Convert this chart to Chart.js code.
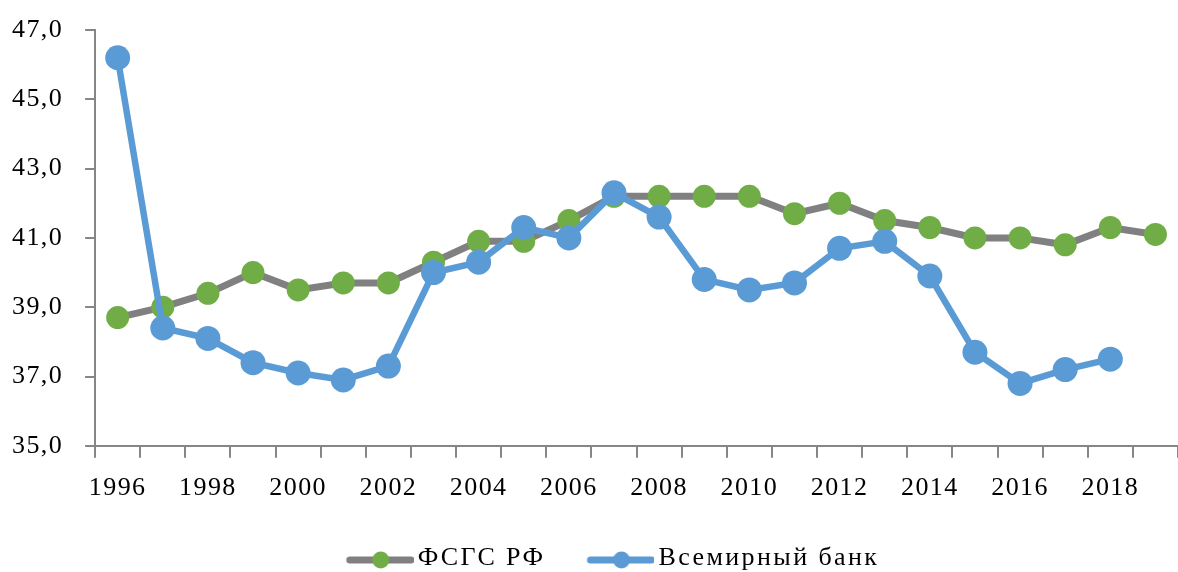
<!doctype html>
<html lang="ru">
<head>
<meta charset="utf-8">
<title>ФСГС РФ и Всемирный банк</title>
<style>
  * { margin: 0; padding: 0; }
  body { background: #fff; }
  .chartBox { width: 1178px; height: 572px; }
</style>
</head>
<body>
<div class="chartBox"><canvas id="myChart"></canvas></div>

<script src="https://cdn.jsdelivr.net/npm/chart.js"></script>
<script>
// data
const years = ['1996','1997','1998','1999','2000','2001','2002','2003','2004','2005','2006','2007',
               '2008','2009','2010','2011','2012','2013','2014','2015','2016','2017','2018','2019'];
const fsgs = [38.7, 39.0, 39.4, 40.0, 39.5, 39.7, 39.7, 40.3, 40.9, 40.9, 41.5, 42.2,
              42.2, 42.2, 42.2, 41.7, 42.0, 41.5, 41.3, 41.0, 41.0, 40.8, 41.3, 41.1];
const worldBank = [46.2, 38.4, 38.1, 37.4, 37.1, 36.9, 37.3, 40.0, 40.3, 41.3, 41.0, 42.3,
                   41.6, 39.8, 39.5, 39.7, 40.7, 40.9, 39.9, 37.7, 36.8, 37.2, 37.5, null];
const seriesNames = ['ФСГС РФ', 'Всемирный банк'];
const yTicks = { min: 35, max: 47, step: 2 };

const axisColor = '#868686';
const fontFamily = "'Liberation Serif', 'Times New Roman', serif";
const axisSpacing = '1.4px';
const legendSpacing = '2.4px';
const legendShift = 21;

// legend swatch: line with a dot in the middle (drawn off-centre inside a wider image)
function swatch(lineColor, dotColor) {
  const c = document.createElement('canvas');
  c.width = 92; c.height = 24;
  const g = c.getContext('2d');
  g.strokeStyle = lineColor;
  g.lineWidth = 7;
  g.lineCap = 'round';
  g.beginPath(); g.moveTo(28, 14); g.lineTo(89, 14); g.stroke();
  g.fillStyle = dotColor;
  g.beginPath(); g.arc(59, 14, 8.5, 0, Math.PI * 2); g.fill();
  return c;
}

// letter spacing like the original, wider in the legend
const spacing = {
  id: 'spacing',
  afterInit(chart) {
    const lg = chart.legend;
    if (!lg) return;
    const fit = lg.fit, draw = lg.draw;
    lg.fit = function () {
      this.ctx.letterSpacing = legendSpacing;
      fit.call(this);
      this.ctx.letterSpacing = axisSpacing;
    };
    lg.draw = function () {
      const c = this.ctx;
      c.save();
      c.letterSpacing = legendSpacing;
      c.translate(legendShift, 0);
      draw.call(this);
      c.restore();
    };
  },
  beforeUpdate(chart) { chart.ctx.letterSpacing = axisSpacing; },
  beforeDraw(chart) { chart.ctx.letterSpacing = axisSpacing; }
};

const data = {
  labels: years,
  datasets: [{
    label: seriesNames[0],
    data: fsgs,
    borderColor: '#808080',
    borderWidth: 7,
    pointBackgroundColor: '#70AD47',
    pointBorderWidth: 0,
    pointRadius: 11.5,
    pointHoverRadius: 11.5,
    tension: 0,
    order: 2,
    legendImg: swatch('#808080', '#70AD47')
  }, {
    label: seriesNames[1],
    data: worldBank,
    borderColor: '#5B9BD5',
    borderWidth: 6.5,
    pointBackgroundColor: '#5B9BD5',
    pointBorderWidth: 0,
    pointRadius: 12.5,
    pointHoverRadius: 12.5,
    tension: 0,
    order: 1,
    legendImg: swatch('#5B9BD5', '#5B9BD5')
  }]
};

const config = {
  type: 'line',
  data,
  options: {
    responsive: true,
    maintainAspectRatio: false,
    animation: false,
    layout: { autoPadding: false, padding: { top: 0, left: -10, right: 0, bottom: -9 } },
    plugins: {
      tooltip: { enabled: false },
      legend: {
        position: 'bottom',
        labels: {
          usePointStyle: true,
          pointStyleWidth: 74,
          color: '#000',
          padding: 26,
          font: { family: fontFamily, size: 26 },
          generateLabels(chart) {
            return chart.data.datasets.map((ds, i) => ({
              text: ds.label,
              pointStyle: ds.legendImg,
              fillStyle: ds.borderColor,
              strokeStyle: ds.borderColor,
              lineWidth: 0,
              hidden: false,
              datasetIndex: i,
              fontColor: '#000'
            }));
          }
        }
      }
    },
    scales: {
      x: {
        offset: true,
        border: { color: axisColor, width: 2 },
        grid: {
          offset: true,
          drawOnChartArea: false,
          drawTicks: true,
          tickLength: 12,
          color: axisColor,
          lineWidth: 2
        },
        ticks: {
          autoSkip: false,
          maxRotation: 0,
          padding: 15,
          color: '#000',
          font: { family: fontFamily, size: 26 },
          callback: (v, i) => (i % 2 === 0 ? years[i] : '')
        }
      },
      y: {
        min: yTicks.min,
        max: yTicks.max,
        afterFit(scale) { scale.paddingTop = 30; },
        border: { color: axisColor, width: 2 },
        grid: {
          drawOnChartArea: false,
          drawTicks: true,
          tickLength: 10,
          color: axisColor,
          lineWidth: 2
        },
        ticks: {
          stepSize: yTicks.step,
          padding: 22,
          color: '#000',
          font: { family: fontFamily, size: 26 },
          callback: v => v.toFixed(1).replace('.', ',')
        }
      }
    }
  },
  plugins: [spacing]
};

const myChart = new Chart(document.getElementById('myChart'), config);
</script>
</body>
</html>
